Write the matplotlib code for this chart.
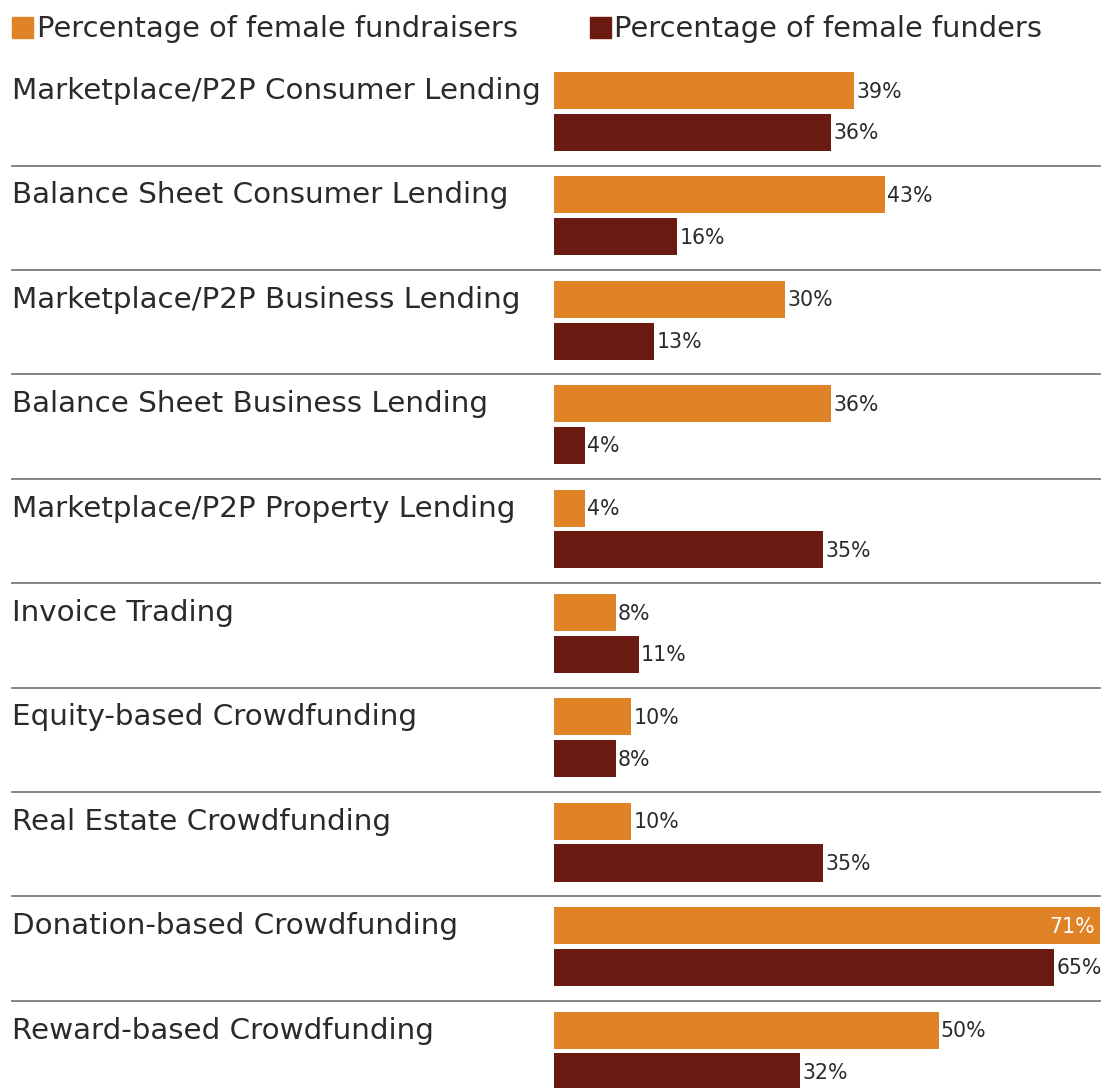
import matplotlib.pyplot as plt
import matplotlib.transforms as mtransforms

plt.rcParams['font.family'] = ['DejaVu Sans']

# data
categories = [
    'Marketplace/P2P Consumer Lending',
    'Balance Sheet Consumer Lending',
    'Marketplace/P2P Business Lending',
    'Balance Sheet Business Lending',
    'Marketplace/P2P Property Lending',
    'Invoice Trading',
    'Equity-based Crowdfunding',
    'Real Estate Crowdfunding',
    'Donation-based Crowdfunding',
    'Reward-based Crowdfunding',
]
fundraisers = [39, 43, 30, 36, 4, 8, 10, 10, 71, 50]
funders = [36, 16, 13, 4, 35, 11, 8, 35, 65, 32]
series_names = ['Percentage of female fundraisers', 'Percentage of female funders']

c_orange = '#E08326'
c_dark = '#6A1A10'
c_text = '#2a2a2a'

W, H = 1107, 1088
fig = plt.figure(figsize=(W / 100, H / 100), dpi=100)
ax = fig.add_axes([554 / W, 0, (1100 - 554) / W, (1088 - 60) / H])
ax.set_xlim(0, 71)
ax.set_ylim(9.555, -0.292)
ax.axis('off')

pos_a = [i for i in range(len(categories))]
pos_b = [i + 0.40 for i in range(len(categories))]
bh = 0.355
ax.barh(pos_a, fundraisers, height=bh, color=c_orange)
ax.barh(pos_b, funders, height=bh, color=c_dark)

for y, v in zip(pos_a, fundraisers):
    if v >= 70:
        ax.text(v - 0.6, y + 0.01, f'{v}%', va='center', ha='right', color='white', fontsize=14.8)
    else:
        ax.text(v + 0.3, y + 0.01, f'{v}%', va='center', ha='left', color=c_text, fontsize=14.8)
for y, v in zip(pos_b, funders):
    ax.text(v + 0.3, y + 0.01, f'{v}%', va='center', ha='left', color=c_text, fontsize=14.8)

trans = mtransforms.blended_transform_factory(fig.transFigure, ax.transData)
for i, name in enumerate(categories):
    ax.text(12 / W, i + 0.005, name, transform=trans, ha='left', va='center',
            fontsize=21.2, color=c_text)
    if i < len(categories) - 1:
        ax.plot([12 / W, 1100 / W], [i + 0.72, i + 0.72], transform=trans,
                color='#7a7a7a', lw=1.3, clip_on=False)

# legend
fig.patches.append(plt.Rectangle((12 / W, 1 - 38 / H), 21 / W, 21 / H,
                                 transform=fig.transFigure, color=c_orange))
fig.text(37 / W, 1 - 29 / H, series_names[0], ha='left', va='center',
         fontsize=20.8, color=c_text)
fig.patches.append(plt.Rectangle((590 / W, 1 - 38 / H), 21 / W, 21 / H,
                                 transform=fig.transFigure, color=c_dark))
fig.text(614 / W, 1 - 29 / H, series_names[1], ha='left', va='center',
         fontsize=20.8, color=c_text)

fig.savefig('out.png', dpi=100)
